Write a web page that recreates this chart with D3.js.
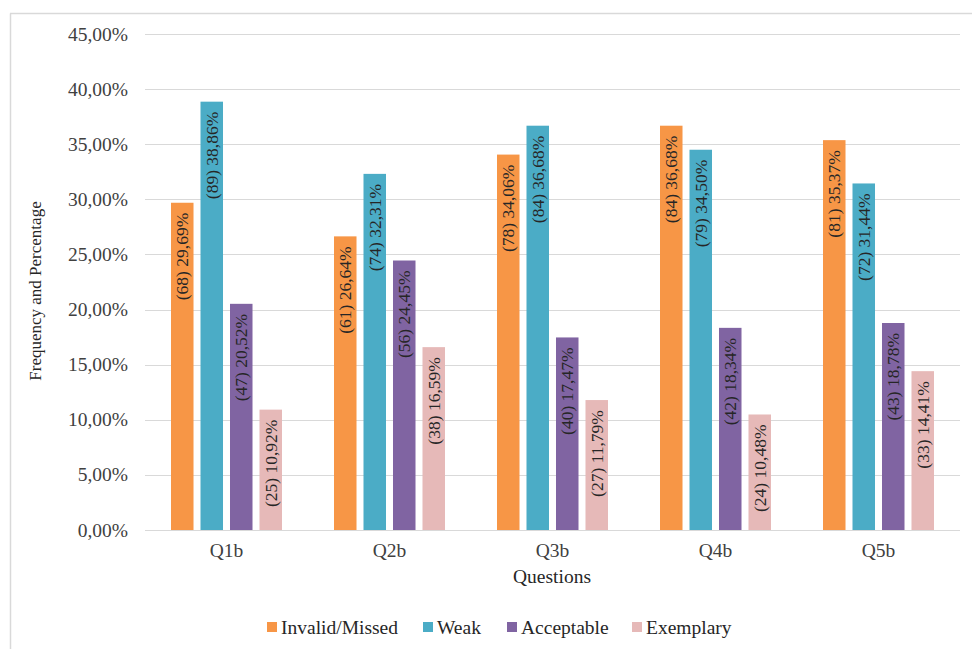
<!DOCTYPE html>
<html>
<head>
<meta charset="utf-8">
<script src="https://cdn.jsdelivr.net/npm/d3@7"></script>
<style>
  html, body { margin: 0; padding: 0; background: #fff; }
  svg { display: block; }
</style>
</head>
<body>
<svg id="chart" width="972" height="649" font-family="'Liberation Serif', 'Times New Roman', Tinos, 'DejaVu Serif', serif"></svg>
<script>
const categories = ["Q1b", "Q2b", "Q3b", "Q4b", "Q5b"];
const seriesNames = ["Invalid/Missed", "Weak", "Acceptable", "Exemplary"];
const seriesColors = ["#F79646", "#4BACC6", "#8064A2", "#E6B9B8"];
// percentages per series, in category order
const invalidPct = [29.69, 26.64, 34.06, 36.68, 35.37];
const weakPct = [38.86, 32.31, 36.68, 34.50, 31.44];
const acceptablePct = [20.52, 24.45, 17.47, 18.34, 18.78];
const exemplaryPct = [10.92, 16.59, 11.79, 10.48, 14.41];
// frequencies per series
const invalidN = [68, 61, 78, 84, 81];
const weakN = [89, 74, 84, 79, 72];
const acceptableN = [47, 56, 40, 42, 43];
const exemplaryN = [25, 38, 27, 24, 33];
const yTicks = [0, 5, 10, 15, 20, 25, 30, 35, 40, 45];

const pctSeries = [invalidPct, weakPct, acceptablePct, exemplaryPct];
const nSeries = [invalidN, weakN, acceptableN, exemplaryN];

const locale = d3.formatLocale({decimal: ",", thousands: ".", grouping: [3], currency: ["", "€"]});
const fmt = locale.format(".2f");

const svg = d3.select("#chart");
const W = 972, H = 649;

// outer frame (partially visible)
svg.append("line").attr("x1", 10).attr("x2", W).attr("y1", 13.5).attr("y2", 13.5)
  .attr("stroke", "#d9d9d9").attr("stroke-width", 1.5);
svg.append("line").attr("x1", 10.5).attr("x2", 10.5).attr("y1", 13.5).attr("y2", H)
  .attr("stroke", "#d9d9d9").attr("stroke-width", 1.5);

const x0 = d3.scaleBand().domain(categories).range([145, 960]).padding(0);
const x1 = d3.scaleBand().domain(seriesNames).range([26, x0.bandwidth() - 26]).paddingInner(0.237).paddingOuter(0);
const y = d3.scaleLinear().domain([0, 45]).range([530, 34]);

// gridlines
svg.append("g").selectAll("line").data(yTicks).join("line")
  .attr("x1", 145).attr("x2", 960)
  .attr("y1", d => Math.round(y(d)) + 0.5).attr("y2", d => Math.round(y(d)) + 0.5)
  .attr("stroke", "#d9d9d9").attr("stroke-width", 1.2);

// y tick labels
svg.append("g").selectAll("text").data(yTicks).join("text")
  .attr("x", 128).attr("y", d => y(d))
  .attr("text-anchor", "end").attr("dominant-baseline", "central")
  .attr("font-size", 19.5).attr("fill", "#404040")
  .text(d => fmt(d) + "%");

// bars
const rows = [];
categories.forEach((c, ci) => {
  seriesNames.forEach((s, si) => {
    rows.push({cat: c, ser: s, si, v: pctSeries[si][ci], n: nSeries[si][ci]});
  });
});

const bars = svg.append("g");
bars.selectAll("rect").data(rows).join("rect")
  .attr("x", d => x0(d.cat) + x1(d.ser))
  .attr("y", d => y(d.v))
  .attr("width", x1.bandwidth())
  .attr("height", d => y(0) - y(d.v))
  .attr("fill", d => seriesColors[d.si]);

// bar labels (rotated, inside top)
bars.selectAll("text").data(rows).join("text")
  .attr("transform", d => {
    const cx = x0(d.cat) + x1(d.ser) + x1.bandwidth() / 2;
    const ty = y(d.v) + 10;
    return `translate(${cx},${ty}) rotate(-90)`;
  })
  .attr("text-anchor", "end").attr("dominant-baseline", "central")
  .attr("font-size", 17.5).attr("fill", "#262626")
  .text(d => `(${d.n}) ${fmt(d.v)}%`);

// x category labels
svg.append("g").selectAll("text").data(categories).join("text")
  .attr("x", d => x0(d) + x0.bandwidth() / 2).attr("y", 557)
  .attr("text-anchor", "middle")
  .attr("font-size", 19.5).attr("fill", "#404040")
  .text(d => d);

// axis titles
svg.append("text").attr("x", 552).attr("y", 583).attr("text-anchor", "middle")
  .attr("font-size", 19.5).attr("fill", "#262626").text("Questions");
svg.append("text").attr("transform", "translate(35,291) rotate(-90)")
  .attr("text-anchor", "middle").attr("dominant-baseline", "central")
  .attr("font-size", 17).attr("fill", "#262626").text("Frequency and Percentage");

// legend
const legendX = [267, 423, 507, 632];
const lg = svg.append("g").selectAll("g").data(seriesNames).join("g")
  .attr("transform", (d, i) => `translate(${legendX[i]},627)`);
lg.append("rect").attr("x", 0).attr("y", -5).attr("width", 10).attr("height", 10)
  .attr("fill", (d, i) => seriesColors[i]);
lg.append("text").attr("x", 14).attr("y", 0).attr("dominant-baseline", "central")
  .attr("font-size", 19.5).attr("fill", "#262626").text(d => d);
</script>
</body>
</html>
